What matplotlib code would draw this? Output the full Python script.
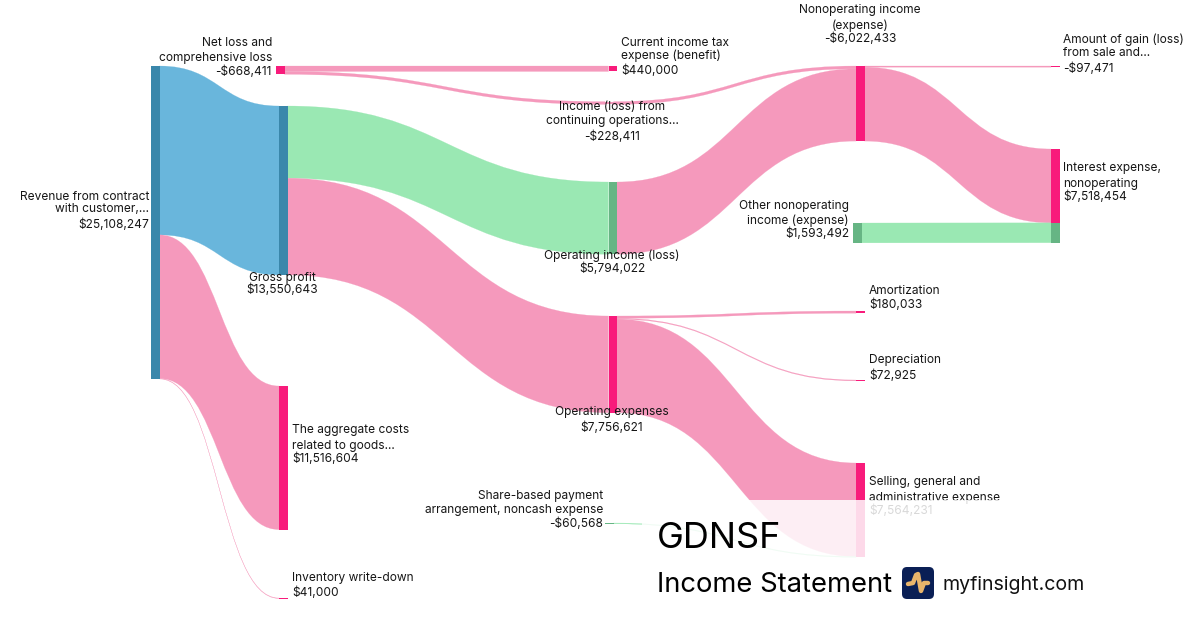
# income statement sankey for GDNSF
import matplotlib
matplotlib.use("Agg")
import matplotlib.pyplot as plt
from matplotlib.patches import PathPatch, Rectangle, FancyBboxPatch
from matplotlib.path import Path

plt.rcParams['font.family'] = ['Inter', 'DejaVu Sans']

# data
node_names = ["Revenue", "NetLoss", "Gross", "Costs", "Inventory", "Tax", "Income",
              "OpIncome", "OpExpenses", "ShareBased", "Nonop", "OtherNonop",
              "Amortization", "Depreciation", "Selling", "GainLoss", "Interest"]
node_values = [25108247, 668411, 13550643, 11516604, 41000, 440000, 228411,
               5794022, 7756621, 60568, 6022433, 1593492,
               180033, 72925, 7564231, 97471, 7518454]
flow_source = ["Revenue", "Revenue", "Revenue", "NetLoss", "NetLoss", "Income", "Gross", "Gross",
               "OpIncome", "OpExpenses", "OpExpenses", "OpExpenses", "ShareBased",
               "Nonop", "Nonop", "OtherNonop"]
flow_target = ["Gross", "Costs", "Inventory", "Tax", "Income", "Nonop", "OpIncome", "OpExpenses",
               "Nonop", "Amortization", "Depreciation", "Selling", "Selling",
               "GainLoss", "Interest", "Interest"]
flow_values = [13550643, 11516604, 41000, 440000, 228411, 228411, 5794022, 7756621,
               5794022, 180033, 72925, 7503663, 60568,
               97471, 5924962, 1593492]
flow_kinds = ["blue", "pink", "pink", "pink", "pink", "pink", "green", "pink",
              "pink", "pink", "pink", "pink", "green",
              "pink", "pink", "green"]
start_kinds = {"Revenue": "blue", "NetLoss": "pink", "OtherNonop": "green", "ShareBased": "green"}

# layout in pixels
px_per_unit = 313 / 25108247
node_width = 8.5
node_x = dict(zip(node_names, [151, 276, 279, 279, 279, 608.5, 605, 608.5, 608.5, 605,
                               856, 853, 856, 856, 856, 1051, 1051]))
node_top = dict(zip(node_names, [66, 66, 106, 386, 598, 66, 101.6, 182, 316, 523,
                                 66, 223, 311, 380, 463, 66, 149]))
flow_colors = {"blue": "#69b6dc", "green": "#9ae8b3", "pink": "#f599bc"}
node_colors = {"blue": "#3a87ab", "green": "#66b584", "pink": "#f81b7b"}
pale_nodes = ["Income"]

# (x, align, [(text, y), ...])
labels = [
    (149, "right", [("Revenue from contract", 195), ("with customer,...", 208), ("$25,108,247", 223)]),
    (272, "right", [("Net loss and", 41), ("comprehensive loss", 57), ("-$668,411", 70)]),
    (282, "center", [("Gross profit", 276), ("$13,550,643", 288)]),
    (292, "left", [("The aggregate costs", 428), ("related to goods...", 445), ("$11,516,604", 457)]),
    (292, "left", [("Inventory write-down", 576), ("$41,000", 591)]),
    (621, "left", [("Current income tax", 41), ("expense (benefit)", 54), ("$440,000", 69)]),
    (612, "center", [("Income (loss) from", 106), ("continuing operations...", 119.5), ("-$228,411", 135)]),
    (612, "center", [("Operating income (loss)", 254), ("$5,794,022", 267)]),
    (612, "center", [("Operating expenses", 411), ("$7,756,621", 426)]),
    (603, "right", [("Share-based payment", 495), ("arrangement, noncash expense", 508), ("-$60,568", 522)]),
    (860, "center", [("Nonoperating income", 8), ("(expense)", 24.5), ("-$6,022,433", 37.5)]),
    (849, "right", [("Other nonoperating", 204), ("income (expense)", 219), ("$1,593,492", 232)]),
    (869, "left", [("Amortization", 289), ("$180,033", 303)]),
    (869, "left", [("Depreciation", 358), ("$72,925", 374)]),
    (869, "left", [("Selling, general and", 480), ("administrative expense", 496), ("$7,564,231", 509)]),
    (1063, "left", [("Amount of gain (loss)", 38.5), ("from sale and...", 51.5), ("-$97,471", 67)]),
    (1063, "left", [("Interest expense,", 166), ("nonoperating", 182.5), ("$7,518,454", 195.5)]),
]

fig = plt.figure(figsize=(12, 6.3), dpi=100)
ax = fig.add_axes([0, 0, 1, 1])
ax.set_xlim(0, 1200)
ax.set_ylim(630, 0)
ax.axis("off")

out_used = {n: 0.0 for n in node_names}
in_used = {n: 0.0 for n in node_names}

for src, dst, val, kind in zip(flow_source, flow_target, flow_values, flow_kinds):
    h = val * px_per_unit
    x0 = node_x[src] + node_width
    x1 = node_x[dst]
    y0 = node_top[src] + out_used[src]
    y1 = node_top[dst] + in_used[dst]
    xm = (x0 + x1) / 2
    verts = [(x0, y0), (xm, y0), (xm, y1), (x1, y1),
             (x1, y1 + h), (xm, y1 + h), (xm, y0 + h), (x0, y0 + h), (x0, y0)]
    codes = [Path.MOVETO, Path.CURVE4, Path.CURVE4, Path.CURVE4,
             Path.LINETO, Path.CURVE4, Path.CURVE4, Path.CURVE4, Path.CLOSEPOLY]
    # thin edge so the very small flows still show
    ax.add_patch(PathPatch(Path(verts, codes), fc=flow_colors[kind], ec=flow_colors[kind], lw=0.15, zorder=2))
    # node pieces follow the colour of what comes in
    color = flow_colors[kind] if dst in pale_nodes else node_colors[kind]
    ax.add_patch(Rectangle((x1, y1), node_width, h, fc=color, ec="none", zorder=3))
    out_used[src] += h
    in_used[dst] += h

for name, kind in start_kinds.items():
    h = node_values[node_names.index(name)] * px_per_unit
    ax.add_patch(Rectangle((node_x[name], node_top[name]), node_width, h,
                           fc=node_colors[kind], ec="none", zorder=3))

for x, align, lines in labels:
    for txt, y in lines:
        ax.text(x, y + 1.5, txt, ha=align, va="center", fontsize=8.6, color="#161616", zorder=4)

# white panel behind the title
ax.add_patch(Rectangle((642, 500), 558, 130, fc="white", ec="none", alpha=0.84, zorder=5))

ax.text(657, 538, "GDNSF", fontsize=26, va="center", ha="left", color="black", zorder=6)
ax.text(657, 585, "Income Statement", fontsize=19.7, va="center", ha="left", color="black", zorder=6)
ax.text(942, 585, "myfinsight.com", fontsize=14.1, va="center", ha="left", color="#111111", zorder=6)

# logo
ax.add_patch(FancyBboxPatch((905, 570), 26, 26, boxstyle="round,pad=3,rounding_size=5",
                            fc="#0a1f55", ec="none", zorder=6))
ax.plot([908, 913, 916, 918, 921, 924, 928], [584, 583, 575, 574, 591, 583, 583],
        color="#e9b56b", lw=3.2, solid_joinstyle="round", solid_capstyle="round", zorder=7)

fig.savefig("out.png", dpi=100, facecolor="white")
